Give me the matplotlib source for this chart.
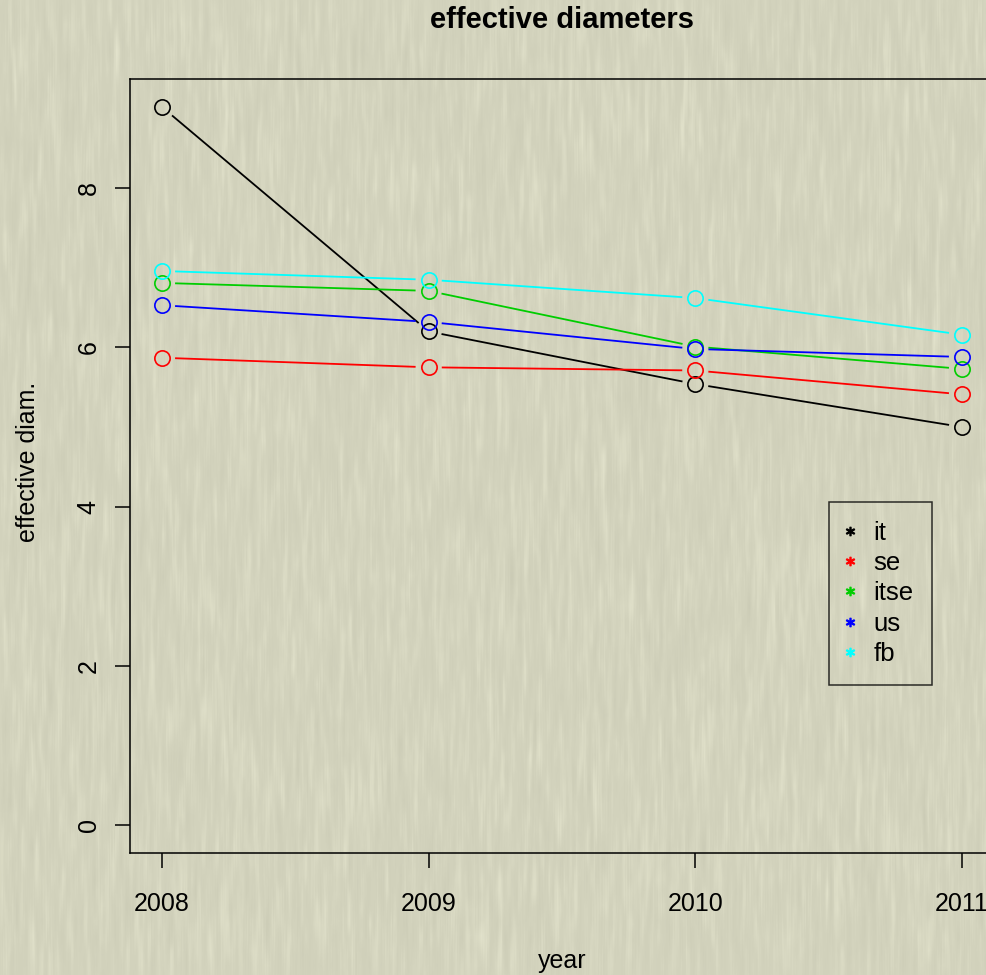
#!/usr/bin/env python3
"""Effective diameters per network, R-style base plot on a paper background."""
import numpy as np
import matplotlib
matplotlib.use("Agg")
import matplotlib.pyplot as plt
from matplotlib.lines import Line2D

years = [2008, 2009, 2010, 2011]
series = ["it", "se", "itse", "us", "fb"]
colors = ["black", "#ff0000", "#00cd00", "#0000ff", "#00ffff"]
it = [9.02, 6.20, 5.54, 5.00]
se = [5.87, 5.75, 5.71, 5.41]
itse = [6.81, 6.71, 6.01, 5.73]
us = [6.53, 6.32, 5.98, 5.88]
fb = [6.96, 6.85, 6.62, 6.16]
values = [it, se, itse, us, fb]

plt.rcParams["font.family"] = ["Liberation Sans", "DejaVu Sans"]

W, H = 987, 975
fig = plt.figure(figsize=(W / 100, H / 100), dpi=100)

# paper-like background with soft, mostly light vertical streaks
rng = np.random.default_rng(3)
noise = rng.normal(0, 1, (H // 15 + 2, W))
noise = np.repeat(noise, 15, axis=0)[:H]
k = np.ones(41) / 41
noise = np.apply_along_axis(lambda c: np.convolve(c, k, mode="same"), 0, noise)
noise = np.apply_along_axis(lambda r: np.convolve(r, np.ones(4) / 4, mode="same"), 1, noise)
noise = noise / noise.std()
noise = np.where(noise > 0, noise, 0.5 * noise)
base = np.array([211, 211, 189]) / 255.0
tex = base[None, None, :] + 0.014 * noise[:, :, None] * np.array([1, 1, 0.95])
bg = fig.add_axes([0, 0, 1, 1], zorder=-10)
bg.imshow(np.clip(tex, 0, 1), aspect="auto", interpolation="bilinear")
bg.axis("off")

ax = fig.add_axes([130 / W, 122 / H, 864 / W, 774 / H])
ax.patch.set_alpha(0)
ax.set_xlim(2007.88, 2011.12)
ax.set_ylim(-0.352, 9.372)

for s in ax.spines.values():
    s.set_linewidth(1.1)

ax.set_xticks(years)
ax.set_yticks([0, 2, 4, 6, 8])
ax.tick_params(axis="both", direction="out", length=11, width=1.1, labelsize=18)
ax.tick_params(axis="x", pad=17)
ax.tick_params(axis="y", pad=10)
for lbl in ax.get_yticklabels():
    lbl.set_rotation(90)
    lbl.set_va("center")

# type="b": points with gaps in the joining lines
gap = 14.0
for vals, c in zip(values, colors):
    ax.plot(years, vals, linestyle="none", marker="o", markersize=11,
            markerfacecolor="none", markeredgecolor=c, markeredgewidth=1.2)
    pts = ax.transData.transform(np.column_stack([years, vals]))
    inv = ax.transData.inverted()
    for p0, p1 in zip(pts[:-1], pts[1:]):
        d = p1 - p0
        u = d / np.hypot(*d)
        a = inv.transform(p0 + u * gap)
        b = inv.transform(p1 - u * gap)
        ax.plot([a[0], b[0]], [a[1], b[1]], color=c, lw=1.3)

handles = [Line2D([], [], linestyle="none", marker="$*$", markersize=6,
                  color=c) for c in colors]
leg = ax.legend(handles, series, loc="upper left",
                bbox_to_anchor=(829 / W, 1 - 502 / H), bbox_transform=fig.transFigure,
                fontsize=18.5, frameon=True, fancybox=False,
                edgecolor="black", handlelength=0.2, handletextpad=0.8,
                labelspacing=0.25, borderpad=0.72, borderaxespad=0)
leg.get_frame().set_facecolor("none")
leg.get_frame().set_linewidth(1.1)

fig.text(562 / W, 1 - 20 / H, "effective diameters", ha="center", va="center",
         fontsize=21, fontweight="bold")
fig.text(562 / W, 1 - 961 / H, "year", ha="center", va="center", fontsize=18)
fig.text(28 / W, 1 - 462 / H, "effective diam.", ha="center", va="center",
         fontsize=18, rotation=90)

fig.savefig("out.png", dpi=100)
